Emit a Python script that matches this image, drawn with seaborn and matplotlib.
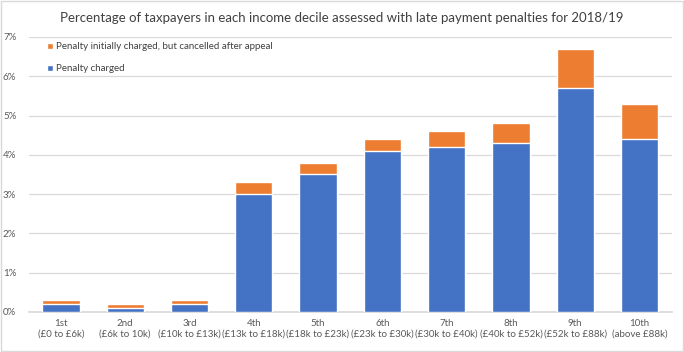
import numpy as np
import pandas as pd
import matplotlib.pyplot as plt
import seaborn as sns

# Data (percent of taxpayers)
deciles = ["1st\n(£0 to £6k)", "2nd\n(£6k to 10k)", "3rd\n(£10k to £13k)", "4th\n(£13k to £18k)",
           "5th\n(£18k to £23k)", "6th\n(£23k to £30k)", "7th\n(£30k to £40k)", "8th\n(£40k to £52k)",
           "9th\n(£52k to £88k)", "10th\n(above £88k)"]
charged = [0.2, 0.1, 0.2, 3.0, 3.5, 4.1, 4.2, 4.3, 5.7, 4.4]
cancelled = [0.1, 0.1, 0.1, 0.3, 0.3, 0.3, 0.4, 0.5, 1.0, 0.9]

df = pd.DataFrame({"decile": deciles, "charged": charged, "cancelled": cancelled})
df["total"] = df["charged"] + df["cancelled"]

sns.set_theme(style="white")
plt.rcParams['font.family'] = ['Lato', 'DejaVu Sans']

blue = "#4472C4"
orange = "#ED7D31"

fig = plt.figure(figsize=(6.84, 3.52), dpi=100)
ax = fig.add_axes([0.042, 0.114, 0.940, 0.781])

# stacked bars: total (orange) behind, charged (blue) in front
sns.barplot(data=df, x="decile", y="total", color=orange, width=0.58, saturation=1,
            ax=ax, label="Penalty initially charged, but cancelled after appeal", zorder=3)
sns.barplot(data=df, x="decile", y="charged", color=blue, width=0.58, saturation=1,
            ax=ax, label="Penalty charged", zorder=3)

ax.set_ylim(0, 7)
ax.set_yticks(range(0, 8))
ax.set_yticklabels([f"{i}%" for i in range(0, 8)])
ax.set_xlim(-0.5, len(deciles) - 0.5)
ax.grid(axis="y", color="#D9D9D9", linewidth=0.9, zorder=0)
ax.set_axisbelow(True)
for s in ["top", "right", "left"]:
    ax.spines[s].set_visible(False)
ax.spines["bottom"].set_color("#D9D9D9")
ax.tick_params(axis="both", length=0, labelsize=7, labelcolor="#595959", pad=5)
ax.tick_params(axis="y", pad=9)
ax.set_xlabel("")
ax.set_ylabel("")

ax.legend(loc="upper left", bbox_to_anchor=(0.015, 1.012), frameon=False, fontsize=7,
          handlelength=0.6, handleheight=0.6, handletextpad=0.3, labelspacing=1.3,
          labelcolor="#404040")

fig.suptitle("Percentage of taxpayers in each income decile assessed with late payment penalties for 2018/19",
             y=0.965, fontsize=9.5, color="#404040")

# light border round the chart area
fig.patches.append(plt.Rectangle((0.002, 0.003), 0.996, 0.994, transform=fig.transFigure,
                                 fill=False, edgecolor="#D9D9D9", linewidth=1))

fig.savefig("out.png", dpi=100)
